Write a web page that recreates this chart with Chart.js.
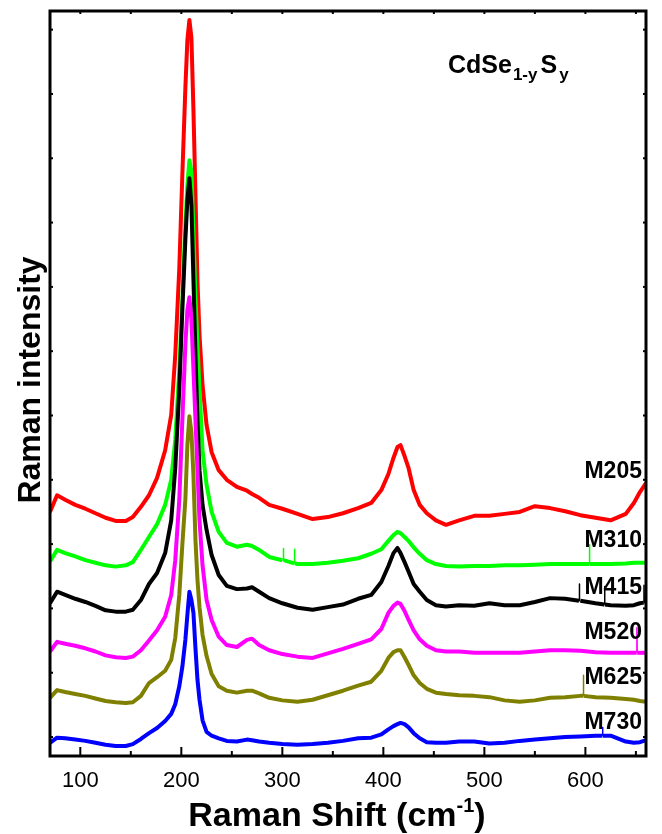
<!DOCTYPE html>
<html><head><meta charset="utf-8">
<script src="https://cdn.jsdelivr.net/npm/chart.js@4.4.0/dist/chart.umd.min.js"></script>
<style>html,body{margin:0;padding:0;background:#fff;}#wrap{width:662px;height:834px;position:relative;}</style>
</head><body><div id="wrap"><canvas id="c" width="662" height="834"></canvas></div>
<script>
// Raman shift (cm-1) sampling points
const ramanShift = [70,77,85,95,105,115,125,135,145,152,160,168,176,184,190,194,198,201,204,206,208,210,212,214,216,218,221,225,230,237,245,255,265,270,277,287,300,315,330,345,360,375,388,398,405,410,414,417,421,425,430,436,443,452,462,475,490,505,520,535,550,565,580,595,610,625,640,648,654,660];
// Raman intensity (arb. units, offset spectra)
const m205 = [3.50,3.76,3.69,3.61,3.55,3.48,3.41,3.36,3.36,3.42, 3.58,3.76,4.03,4.46,5.01,5.94,7.29,8.74,10.09,10.84, 11.15,10.87,9.75,8.43,7.08,6.25,5.47,4.85,4.43,4.15, 4.00,3.89,3.83,3.78,3.72,3.61,3.55,3.47,3.39,3.42, 3.48,3.56,3.64,3.84,4.09,4.34,4.51,4.54,4.37,4.18, 3.84,3.61,3.48,3.37,3.30,3.37,3.44,3.44,3.47,3.50, 3.59,3.56,3.51,3.45,3.41,3.37,3.47,3.64,3.81,3.95];
const m310 = [2.73,2.91,2.86,2.81,2.75,2.71,2.67,2.65,2.67,2.72, 2.91,3.11,3.31,3.61,4.00,4.62,5.71,6.80,7.96,8.58, 8.97,8.79,7.88,6.84,6.10,5.40,4.46,3.92,3.50,3.19, 3.02,2.96,2.99,2.97,2.91,2.80,2.75,2.69,2.69,2.71, 2.74,2.78,2.85,2.92,3.05,3.14,3.19,3.17,3.11,3.05, 2.95,2.85,2.75,2.69,2.66,2.65,2.66,2.66,2.67,2.67, 2.68,2.69,2.69,2.69,2.69,2.69,2.70,2.71,2.71,2.71];
const m415 = [2.08,2.26,2.21,2.15,2.10,2.04,1.97,1.95,1.95,1.98, 2.13,2.38,2.55,2.86,3.37,4.18,5.40,6.64,7.73,8.35, 8.69,8.27,7.11,5.94,4.93,4.15,3.61,3.22,2.83,2.52, 2.35,2.30,2.31,2.33,2.26,2.16,2.08,2.01,1.98,2.02, 2.06,2.15,2.21,2.41,2.66,2.86,2.94,2.86,2.72,2.57, 2.38,2.26,2.13,2.05,2.03,2.05,2.04,2.08,2.05,2.05, 2.10,2.16,2.15,2.12,2.08,2.05,2.04,2.05,2.08,2.10];
const m520 = [1.33,1.48,1.45,1.42,1.38,1.33,1.27,1.24,1.23,1.25, 1.35,1.50,1.66,1.87,2.21,2.75,3.69,4.93,6.10,6.64, 6.84,6.49,5.71,4.93,4.15,3.37,2.67,2.13,1.82,1.56, 1.43,1.40,1.51,1.53,1.43,1.35,1.29,1.25,1.23,1.30, 1.37,1.45,1.52,1.68,1.93,2.04,2.09,2.07,1.96,1.82, 1.66,1.52,1.42,1.35,1.33,1.33,1.31,1.31,1.31,1.31, 1.33,1.35,1.35,1.34,1.32,1.31,1.31,1.31,1.31,1.31];
const m625 = [0.61,0.73,0.70,0.67,0.64,0.60,0.56,0.54,0.53,0.54, 0.64,0.84,0.93,1.03,1.20,1.54,2.21,2.99,3.69,4.54, 4.99,4.74,4.07,3.06,2.44,2.02,1.59,1.26,0.98,0.79, 0.72,0.69,0.72,0.72,0.68,0.61,0.57,0.55,0.58,0.65, 0.72,0.80,0.86,1.03,1.23,1.32,1.35,1.35,1.24,1.12, 0.96,0.84,0.75,0.69,0.67,0.65,0.64,0.62,0.57,0.55, 0.57,0.61,0.62,0.64,0.62,0.61,0.59,0.58,0.56,0.55];
const m730 = [-0.09,-0.01,-0.02,-0.04,-0.06,-0.09,-0.12,-0.14,-0.14,-0.11, -0.03,0.06,0.14,0.25,0.36,0.51,0.79,1.09,1.51,1.90, 2.26,2.13,1.93,1.38,0.89,0.58,0.26,0.08,0.02,-0.02, -0.06,-0.07,-0.04,-0.05,-0.07,-0.09,-0.11,-0.12,-0.11,-0.09, -0.06,-0.02,-0.01,0.04,0.12,0.17,0.20,0.22,0.20,0.15, 0.06,-0.02,-0.08,-0.09,-0.09,-0.07,-0.07,-0.10,-0.09,-0.06, -0.04,-0.02,0.00,0.01,0.02,0.02,-0.07,-0.09,-0.08,-0.05];

// narrow spikes seen in the spectra: [shift, spike top, local baseline]
const m205Spikes = [];
const m310Spikes = [[301, 2.93, 2.75], [312, 2.92, 2.70], [604, 2.99, 2.69]];
const m415Spikes = [[594, 2.38, 2.12], [619, 2.34, 2.06], [658, 2.36, 2.09]];
const m520Spikes = [[651, 1.70, 1.31]];
const m625Spikes = [[598, 0.96, 0.64]];
const m730Spikes = [[617, 0.15, 0.02]];

const seriesNames = ['M205','M310','M415','M520','M625','M730'];
const seriesValues = [m205, m310, m415, m520, m625, m730];
const seriesSpikes = [m205Spikes, m310Spikes, m415Spikes, m520Spikes, m625Spikes, m730Spikes];
const seriesColors = ['#ff0000','#00ff00','#000000','#ff00ff','#808000','#0000ff'];
const labelLevels = [4.12, 3.05, 2.33, 1.63, 0.93, 0.23];
const labelShift = 656;
const xTickValues = [100,150,200,250,300,350,400,450,500,550,600,650];
const yTickValues = [0,1,2,3,4,5,6,7,8,9,10,11];
const xRange = [70, 660];
const yRange = [-0.295, 11.29];

const FONT = '"Liberation Sans", Arial, Helvetica, sans-serif';

const decor = {
  id: 'decor',
  afterDatasetsDraw(chart) {
    const {ctx, chartArea: a, scales: {x, y}} = chart;
    ctx.save();
    ctx.strokeStyle = '#000';
    ctx.fillStyle = '#000';
    ctx.lineWidth = 2;
    x.ticks.forEach(t => {
      const px = x.getPixelForValue(t.value);
      const major = t.value % 100 === 0;
      ctx.beginPath(); ctx.moveTo(px, a.bottom); ctx.lineTo(px, a.bottom - (major ? 9 : 5)); ctx.stroke();
      ctx.beginPath(); ctx.moveTo(px, a.top); ctx.lineTo(px, a.top + 3); ctx.stroke();
    });
    y.ticks.forEach(t => {
      const py = y.getPixelForValue(t.value);
      ctx.beginPath(); ctx.moveTo(a.left, py); ctx.lineTo(a.left + 3, py); ctx.stroke();
      ctx.beginPath(); ctx.moveTo(a.right, py); ctx.lineTo(a.right - 3, py); ctx.stroke();
    });
    ctx.lineWidth = 3;
    ctx.strokeRect(a.left, a.top, a.right - a.left, a.bottom - a.top);

    // series labels
    ctx.font = 'bold 23px ' + FONT;
    ctx.textAlign = 'right';
    ctx.textBaseline = 'middle';
    seriesNames.forEach((n, i) => {
      ctx.fillText(n, x.getPixelForValue(labelShift), y.getPixelForValue(labelLevels[i]));
    });

    // formula title CdSe(1-y)S(y)
    ctx.textAlign = 'left';
    ctx.textBaseline = 'alphabetic';
    const parts = [['CdSe', 25, 0, 1], ['1-y', 17, 7, 3], ['S', 25, 0, 2], ['y', 17, 7, 0]];
    let cx = 448;
    const base = 73;
    parts.forEach(([s, f, dy, gap]) => {
      ctx.font = 'bold ' + f + 'px ' + FONT;
      ctx.fillText(s, cx, base + dy);
      cx += ctx.measureText(s).width + gap;
    });

    // x axis title with superscript
    const xt = [['Raman Shift (cm', 34, 0], ['-1', 20, -14], [')', 34, 0]];
    let tw = 0;
    xt.forEach(([s, f]) => { ctx.font = 'bold ' + f + 'px ' + FONT; tw += ctx.measureText(s).width; });
    let tx = 337 - tw / 2;
    xt.forEach(([s, f, dy]) => {
      ctx.font = 'bold ' + f + 'px ' + FONT;
      ctx.fillText(s, tx, 826 + dy);
      tx += ctx.measureText(s).width;
    });

    // y axis title
    ctx.save();
    ctx.translate(40, 380);
    ctx.rotate(-Math.PI / 2);
    ctx.textAlign = 'center';
    ctx.font = 'bold 32px ' + FONT;
    ctx.fillText('Raman intensity', 0, 0);
    ctx.restore();
    ctx.restore();
  }
};

function buildPoints(values, spikes) {
  const pts = ramanShift.map((xv, k) => ({x: xv, y: values[k]}));
  spikes.forEach(([sx, top, baseV]) => {
    pts.push({x: sx - 0.3, y: baseV}, {x: sx, y: top}, {x: sx + 0.3, y: baseV});
  });
  pts.sort((p, q) => p.x - q.x);
  return pts;
}

const datasets = seriesNames.map((name, i) => ({
  label: name,
  data: buildPoints(seriesValues[i], seriesSpikes[i]),
  borderColor: seriesColors[i],
  backgroundColor: seriesColors[i],
  borderWidth: 4,
  borderJoinStyle: 'round',
  pointRadius: 0,
  tension: 0,
  fill: false,
  order: seriesNames.length - i,
  segment: {
    borderWidth: c => (Math.abs(c.p1.parsed.x - c.p0.parsed.x) < 1 ? 1.5 : undefined)
  }
}));

new Chart(document.getElementById('c'), {
  type: 'line',
  data: { datasets },
  options: {
    responsive: false,
    animation: false,
    devicePixelRatio: 1,
    layout: { padding: { left: 0, right: 16, top: 11, bottom: 0 } },
    plugins: { legend: { display: false }, tooltip: { enabled: false }, title: { display: false } },
    scales: {
      x: {
        type: 'linear', min: xRange[0], max: xRange[1],
        afterBuildTicks: s => { s.ticks = xTickValues.map(v => ({ value: v })); },
        afterFit: s => { s.height = 78; s.paddingLeft = 0; s.paddingRight = 0; },
        ticks: {
          callback: v => (v % 100 === 0 ? String(v) : ''),
          font: { family: FONT, size: 22 }, color: '#000', padding: 12,
          maxRotation: 0, autoSkip: false
        },
        grid: { display: false, drawTicks: false },
        border: { display: false }
      },
      y: {
        type: 'linear', min: yRange[0], max: yRange[1],
        afterBuildTicks: s => { s.ticks = yTickValues.map(v => ({ value: v })); },
        afterFit: s => { s.width = 50; },
        ticks: { display: false },
        grid: { display: false, drawTicks: false },
        border: { display: false }
      }
    }
  },
  plugins: [decor]
});
</script></body></html>
